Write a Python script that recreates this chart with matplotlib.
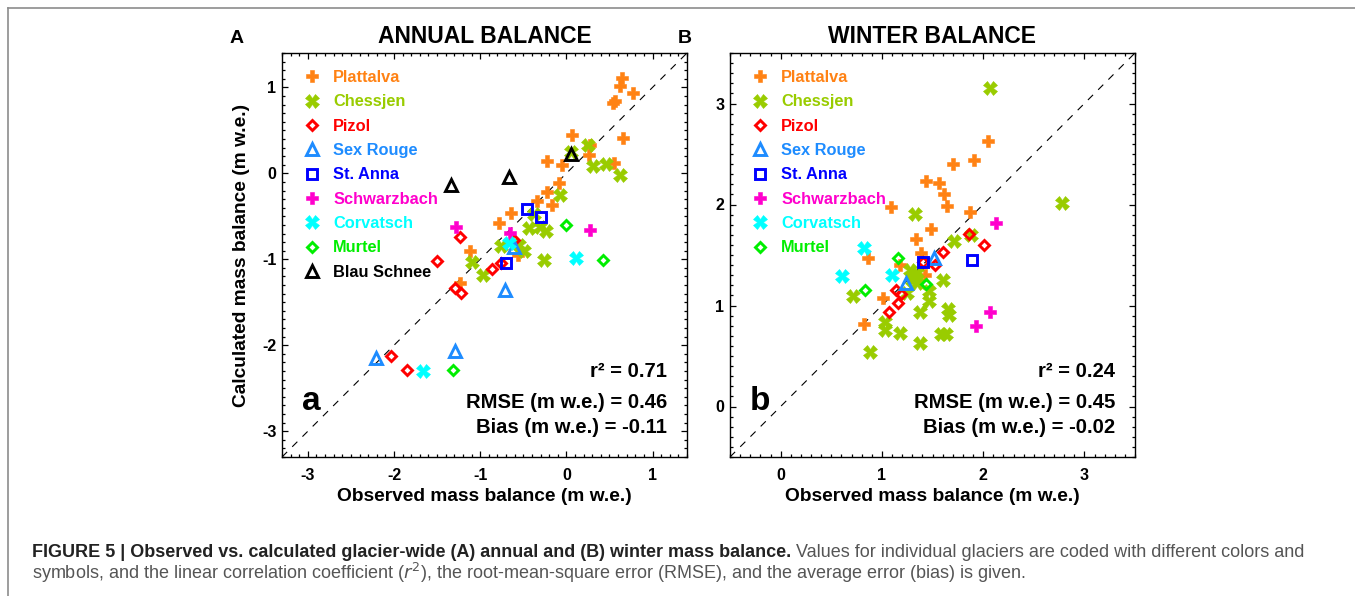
import matplotlib
matplotlib.use('Agg')
import matplotlib.pyplot as plt
from matplotlib.ticker import MultipleLocator
from matplotlib.lines import Line2D

plt.rcParams['font.family'] = ['Liberation Sans', 'DejaVu Sans']
plt.rcParams['axes.unicode_minus'] = False

glaciers = ['Plattalva', 'Chessjen', 'Pizol', 'Sex Rouge', 'St. Anna',
            'Schwarzbach', 'Corvatsch', 'Murtel', 'Blau Schnee']

# annual balance: observed / calculated (m w.e.)
ann_obs = {
    'Plattalva': [0.64, 0.62, 0.77, 0.54, 0.56, 0.66, 0.06, 0.26, 0.27, 0.55, -0.22,
                  -0.05, -0.08, -0.22, -0.34, -0.17, -0.64, -0.78, -1.12, -0.56, -1.24],
    'Chessjen': [0.25, 0.31, 0.46, 0.62, 0.05, -0.07, -0.43, -0.31, -0.24, -0.49, -0.76,
                 -1.09, -0.26, -0.97, -0.38, -0.55],
    'Pizol': [-1.23, -1.50, -0.86, -0.61, -0.76, -1.29, -1.22, -2.03, -1.85],
    'Sex Rouge': [-0.61, -0.71, -2.21, -1.29],
    'St. Anna': [-0.46, -0.30, -0.70],
    'Schwarzbach': [-1.28, -0.65, 0.27],
    'Corvatsch': [-0.66, 0.11, -1.66],
    'Murtel': [-0.01, 0.42, -1.32],
    'Blau Schnee': [-1.34, -0.67, 0.05],
}
ann_calc = {
    'Plattalva': [1.11, 1.02, 0.93, 0.82, 0.84, 0.41, 0.45, 0.21, 0.33, 0.12, 0.14,
                  0.10, -0.11, -0.22, -0.32, -0.37, -0.46, -0.58, -0.90, -0.95, -1.27],
    'Chessjen': [0.33, 0.09, 0.11, -0.02, 0.25, -0.25, -0.64, -0.62, -0.67, -0.90, -0.85,
                 -1.03, -1.01, -1.18, -0.47, -0.83],
    'Pizol': [-0.74, -1.02, -1.11, -0.78, -1.04, -1.33, -1.39, -2.13, -2.29],
    'Sex Rouge': [-0.86, -1.36, -2.15, -2.07],
    'St. Anna': [-0.41, -0.51, -1.04],
    'Schwarzbach': [-0.63, -0.69, -0.66],
    'Corvatsch': [-0.81, -0.99, -2.30],
    'Murtel': [-0.60, -1.01, -2.29],
    'Blau Schnee': [-0.13, -0.04, 0.23],
}

# winter balance
win_obs = {
    'Plattalva': [2.05, 1.91, 1.70, 1.44, 1.56, 1.61, 1.64, 1.09, 1.87, 1.49, 1.34, 0.86,
                  1.39, 1.18, 1.01, 0.82, 1.43],
    'Chessjen': [2.07, 2.78, 1.33, 1.71, 1.88, 1.35, 1.60, 0.71, 1.47, 1.47, 1.38, 1.65,
                 1.66, 1.03, 1.03, 1.18, 1.58, 1.63, 1.38, 0.88, 1.25, 1.30, 1.33, 1.28, 1.35],
    'Pizol': [1.86, 2.01, 1.60, 1.52, 1.41, 1.14, 1.19, 1.16, 1.07],
    'Sex Rouge': [1.51, 1.24],
    'St. Anna': [1.41, 1.89],
    'Schwarzbach': [2.13, 2.07, 1.93],
    'Corvatsch': [0.82, 0.61, 1.10],
    'Murtel': [1.16, 0.83, 1.44],
}
win_calc = {
    'Plattalva': [2.63, 2.44, 2.40, 2.23, 2.21, 2.10, 1.99, 1.98, 1.93, 1.76, 1.66, 1.47,
                  1.52, 1.40, 1.07, 0.82, 1.30],
    'Chessjen': [3.15, 2.01, 1.91, 1.64, 1.70, 1.32, 1.25, 1.09, 1.14, 1.04, 0.94, 0.97,
                 0.91, 0.84, 0.76, 0.73, 0.72, 0.72, 0.63, 0.54, 1.12, 1.25, 1.28, 1.35, 1.22],
    'Pizol': [1.71, 1.60, 1.53, 1.40, 1.43, 1.15, 1.11, 1.02, 0.94],
    'Sex Rouge': [1.47, 1.22],
    'St. Anna': [1.43, 1.45],
    'Schwarzbach': [1.82, 0.94, 0.80],
    'Corvatsch': [1.57, 1.29, 1.30],
    'Murtel': [1.47, 1.15, 1.21],
}

ann_stats = ['r\u00b2 = 0.71', 'RMSE (m w.e.) = 0.46', 'Bias (m w.e.) = -0.11']
win_stats = ['r\u00b2 = 0.24', 'RMSE (m w.e.) = 0.45', 'Bias (m w.e.) = -0.02']

colors = {'Plattalva': '#ff8214', 'Chessjen': '#99cc00', 'Pizol': '#ff0000',
          'Sex Rouge': '#1e8cff', 'St. Anna': '#0000ff', 'Schwarzbach': '#ff00cc',
          'Corvatsch': '#00ffff', 'Murtel': '#00ee00', 'Blau Schnee': '#000000'}
markers = {'Plattalva': 'P', 'Chessjen': 'X', 'Pizol': 'D', 'Sex Rouge': '^',
           'St. Anna': 's', 'Schwarzbach': 'P', 'Corvatsch': 'X', 'Murtel': 'D',
           'Blau Schnee': '^'}
filled = {'P', 'X'}
msize = {'P': 8, 'X': 9.5, 'D': 5.4, '^': 8, 's': 7}

fig = plt.figure(figsize=(13.55, 5.96), dpi=100)
W, H = 1355, 596


def panel(left_px, obs, calc, lims, stats, letter, title, tag, ylabel):
    ax = fig.add_axes([left_px / W, 1 - 457 / H, 405 / W, 404 / H])
    handles = []
    for g in glaciers:
        if g not in obs:
            continue
        m = markers[g]
        c = colors[g]
        if m in filled:
            kw = dict(color=c, mec=c, mew=0.4)
        else:
            kw = dict(mfc='none', mec=c, mew=2.1)
        h, = ax.plot(obs[g], calc[g], ls='none', marker=m, ms=msize[m], label=g, **kw)
        handles.append(h)
    ax.axline((0, 0), slope=1, color='black', lw=0.8, ls=(0, (6.5, 6.5)), zorder=0)
    ax.set_xlim(lims)
    ax.set_ylim(lims)
    ax.xaxis.set_major_locator(MultipleLocator(1))
    ax.yaxis.set_major_locator(MultipleLocator(1))
    ax.xaxis.set_minor_locator(MultipleLocator(0.1))
    ax.yaxis.set_minor_locator(MultipleLocator(0.1))
    ax.tick_params(which='both', direction='in', top=True, right=True, width=0.9)
    ax.tick_params(which='major', length=4.5)
    ax.tick_params(which='minor', length=2.2)
    ax.tick_params(axis='x', pad=8)
    ax.tick_params(axis='y', pad=4)
    for lab in ax.get_xticklabels() + ax.get_yticklabels():
        lab.set_fontweight('bold')
        lab.set_fontsize(11.5)
    for s in ax.spines.values():
        s.set_linewidth(1.0)
    ax.set_xlabel('Observed mass balance (m w.e.)', fontsize=13.8, fontweight='bold')
    ax.xaxis.set_label_coords(0.5, -0.077)
    if ylabel:
        ax.set_ylabel('Calculated mass balance (m w.e.)', fontsize=13.8, fontweight='bold')
        ax.yaxis.set_label_coords(-0.079, 0.5)
    ax.legend(handles=handles, loc='upper left', bbox_to_anchor=(0.0546, 0.958),
              frameon=False, borderpad=0, borderaxespad=0, handlelength=1.0,
              handletextpad=0.78, labelspacing=0.57,
              prop={'weight': 'bold', 'size': 11.8},
              labelcolor=[colors[h.get_label()] for h in handles])
    for txt, yb in zip(stats, [0.199, 0.121, 0.059]):
        ax.text(0.951, yb, txt, transform=ax.transAxes, ha='right', va='baseline',
                fontsize=14.6, fontweight='bold')
    ax.text(0.073, 0.116, letter, transform=ax.transAxes, ha='center', va='baseline',
            fontsize=24, fontweight='bold')
    fig.text((left_px + 202.5) / W, 1 - 43.3 / H, title, ha='center', va='baseline',
             fontsize=16.5, fontweight='bold')
    fig.text((left_px - 45) / W, 1 - 43.3 / H, tag, ha='center', va='baseline',
             fontsize=14, fontweight='bold')
    return ax


panel(282, ann_obs, ann_calc, (-3.3, 1.4), ann_stats, 'a', 'ANNUAL BALANCE', 'A', True)
panel(730, win_obs, win_calc, (-0.5, 3.5), win_stats, 'b', 'WINTER BALANCE', 'B', False)

# frame of the figure panel
fig.add_artist(Line2D([8 / W, 1], [1 - 8 / H, 1 - 8 / H], transform=fig.transFigure,
                      color='#8c8c8c', lw=1.2))
fig.add_artist(Line2D([8 / W, 8 / W], [0, 1 - 8 / H], transform=fig.transFigure,
                      color='#8c8c8c', lw=1.2))

cap_bold = ('FIGURE 5 | Observed vs. calculated glacier-wide (A) annual and (B) '
            'winter mass balance.')
cap_rest = ' Values for individual glaciers are coded with different colors and'
cap_line2 = ('symbols, and the linear correlation coefficient ($r^2$), the root-mean-square '
             'error (RMSE), and the average error (bias) is given.')
t1 = fig.text(32 / W, 1 - 556.7 / H, cap_bold, ha='left', va='baseline', fontsize=13,
              fontweight='bold', color='#222222')
fig.canvas.draw()
bb = t1.get_window_extent()
fig.text(bb.x1 / W, 1 - 556.7 / H, cap_rest, ha='left', va='baseline', fontsize=13,
         color='#555555')
fig.text(32 / W, 1 - 579 / H, cap_line2, ha='left', va='baseline', fontsize=13,
         color='#555555')

fig.savefig('out.png', dpi=100)
